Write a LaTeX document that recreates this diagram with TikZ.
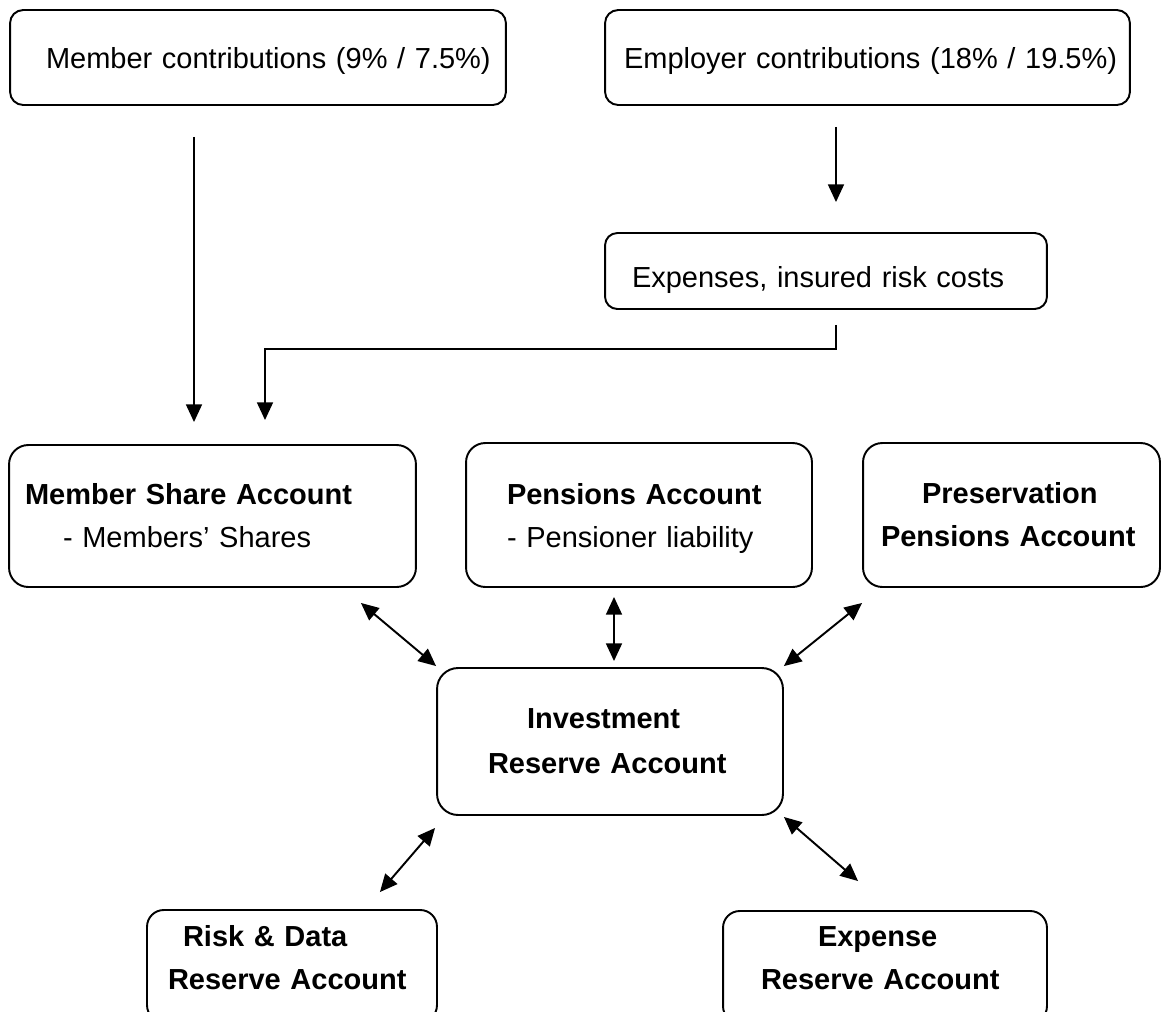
\documentclass[tikz,border=0pt]{standalone}
\usepackage{fontspec}
\setmainfont{Liberation Sans}
\usetikzlibrary{calc,arrows.meta}

\tikzset{
  acct/.style={draw, line width=1.1pt, rounded corners=#1, align=left, inner sep=0pt,
    font=\fontsize{16.5}{24.5}\selectfont},
  acct/.default=7.5pt,
  flow/.style={line width=1.1pt, -{Triangle[length=10pt,width=9pt]}},
  twoway/.style={line width=1.1pt, {Triangle[length=10pt,width=9pt]}-{Triangle[length=10pt,width=9pt]}}
}

\begin{document}
\begin{tikzpicture}[x=0.02cm, y=-0.02cm]
  \useasboundingbox (0,0) rectangle (1161,1012);

  % contributions
  \node[acct, text width=9.92cm, minimum height=1.9cm, text depth=0cm] (mc) at (258,57.5) {\hspace*{0.72cm}Member contributions (9\% / 7.5\%)};
  \node[acct, text width=10.5cm, minimum height=1.9cm, text depth=0cm] (ec) at (867.5,57.5) {\hspace*{0.38cm}Employer contributions (18\% / 19.5\%)};
  \node[acct=7pt, text width=8.84cm, minimum height=1.52cm, text height=0.64cm, text depth=0cm] (eirc) at (826,271) {\hspace*{0.54cm}Expenses, insured risk costs};

  % accounts
  \node[acct=11pt, text width=8.14cm, minimum height=2.84cm] (msa) at (212.5,516) {\hspace*{0.32cm}\textbf{Member Share Account}\\\hspace*{1.08cm}- Members’ Shares};
  \node[acct=11pt, text width=6.92cm, minimum height=2.88cm, text depth=0.86cm] (pa) at (639,515) {\hspace*{0.82cm}\textbf{Pensions Account}\\\hspace*{0.82cm}- Pensioner liability};
  \node[acct=11pt, text width=5.94cm, minimum height=2.88cm] (ppa) at (1011.5,515) {\bfseries\hspace*{1.18cm}Preservation\\\hspace*{0.36cm}Pensions Account};
  \node[acct=12pt, text width=6.92cm, minimum height=2.94cm, font=\fontsize{16.5}{25.5}\selectfont] (ira) at (610,741.5) {\bfseries\hspace*{1.8cm}Investment\\\hspace*{1.02cm}Reserve Account};

  % reserves, cut off by the page
  \node[acct=9.5pt, text width=5.8cm, minimum height=2.24cm, text depth=1.22cm] (rdra) at (292,966) {\bfseries\hspace*{0.72cm}Risk \& Data\\\hspace*{0.42cm}Reserve Account};
  \node[acct=9.5pt, text width=6.48cm, minimum height=2.24cm, text depth=1.22cm] (era) at (885,967) {\bfseries\hspace*{1.9cm}Expense\\\hspace*{0.76cm}Reserve Account};

  % flows
  \draw[flow] ($(mc.south)+(-64,31)$) -- ($(msa.north)+(-18.5,-22)$);
  \draw[flow] ($(ec.south)+(-31.5,21)$) -- ($(eirc.north)+(10,-30)$);
  \draw[flow] ($(eirc.south)+(10,15)$) -- ++(0,24) -| ($(msa.north)+(52.5,-24)$);

  % transfers with the investment reserve
  \draw[twoway] ($(msa.south east)+(-56,15)$) -- ($(ira.north west)+(0,-1)$);
  \draw[twoway] ($(pa.south)+(-25,9)$) -- ($(ira.north)+(4,-6)$);
  \draw[twoway] ($(ppa.south west)+(0,15)$) -- ($(ira.north east)+(0,-1)$);
  \draw[twoway] ($(ira.south west)+(-1,12)$) -- ($(rdra.north east)+(-58,-17)$);
  \draw[twoway] ($(ira.south east)+(0,1)$) -- ($(era.north west)+(136,-29)$);
\end{tikzpicture}
\end{document}
